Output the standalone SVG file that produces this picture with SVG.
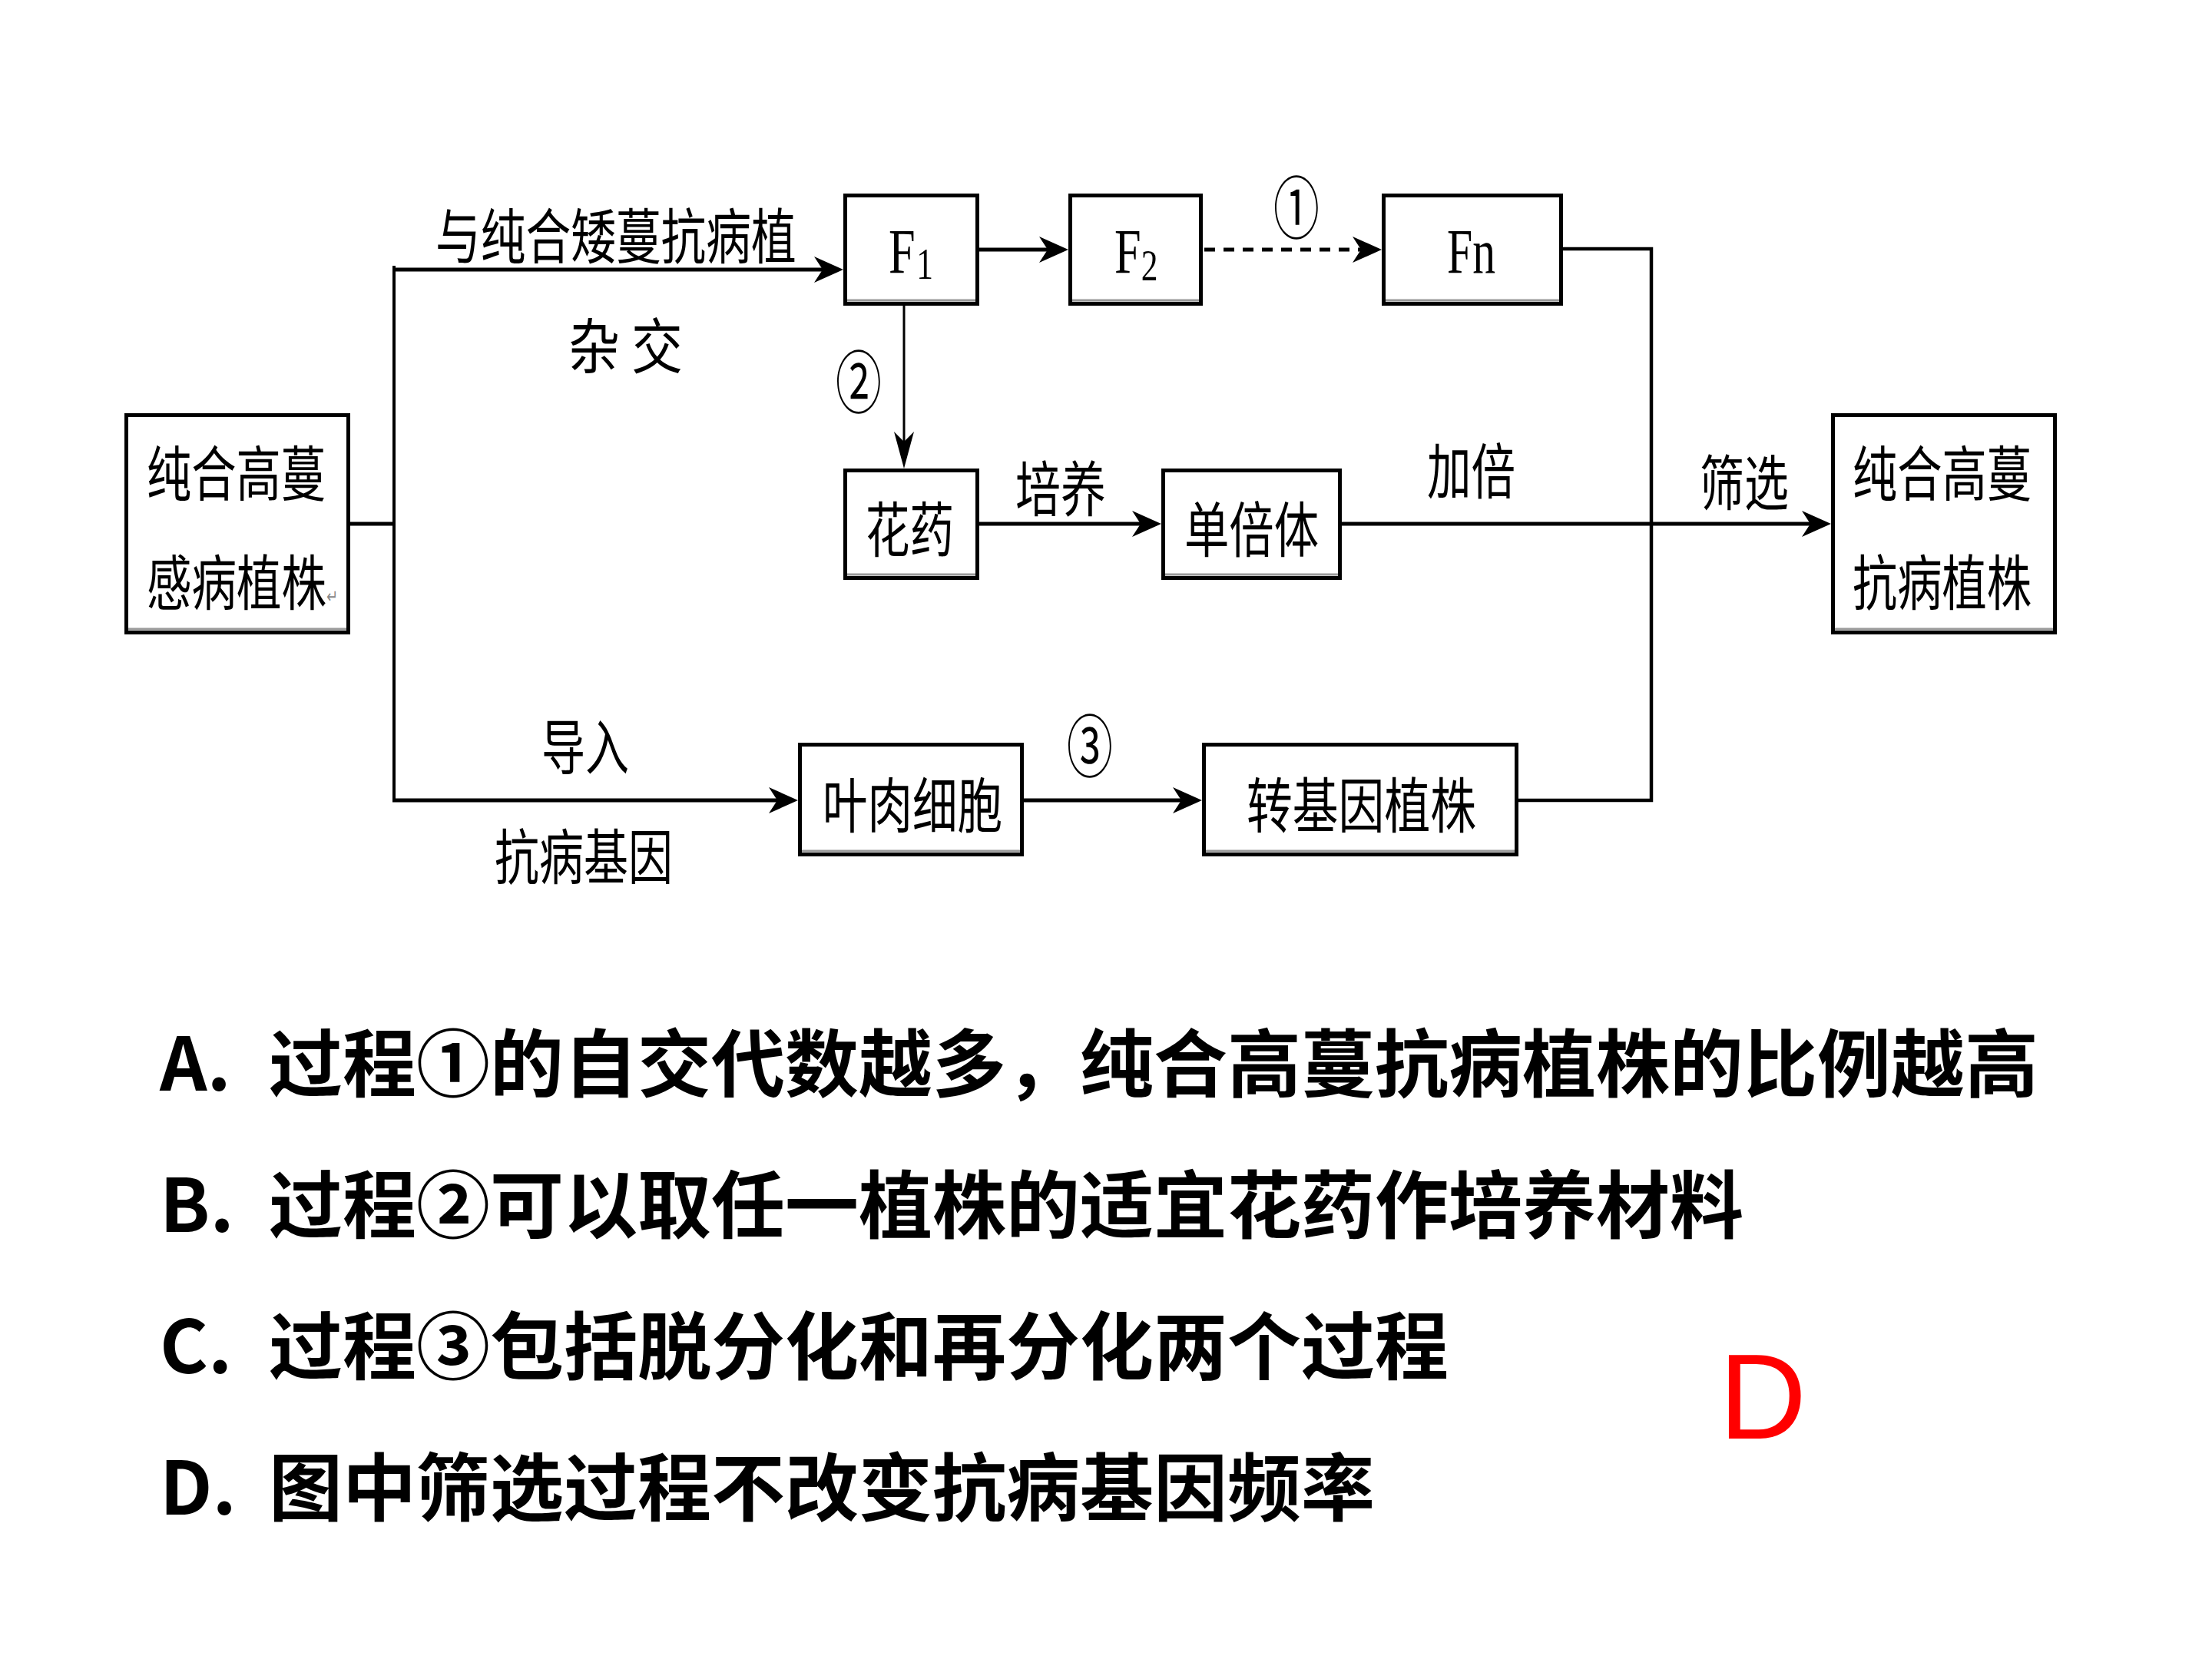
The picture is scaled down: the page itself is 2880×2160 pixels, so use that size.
<svg xmlns="http://www.w3.org/2000/svg" width="2880" height="2160" viewBox="0 0 2880 2160">
<defs>
<style>
.box{fill:#fff;stroke:#000;stroke-width:5}
.shd{fill:none;stroke:#9a9a9a;stroke-width:3}
.t{font-family:"Noto Sans CJK SC","Noto Sans CJK JP",sans-serif;font-size:78px;fill:#000}
.f{font-family:"Liberation Serif","Times New Roman",serif;font-size:83px;fill:#000}
.c{font-family:"Noto Sans CJK SC","Noto Sans CJK JP",sans-serif;font-size:88px;fill:#000;text-anchor:middle}
.ln{fill:none;stroke:#000;stroke-width:5}
.opt{font-family:"Noto Sans CJK SC","Noto Sans CJK JP",sans-serif;font-size:96px;font-weight:bold;fill:#000}
</style>
<marker id="ah" markerUnits="userSpaceOnUse" viewBox="-40 -20 40 40" markerWidth="40" markerHeight="40" refX="-20" refY="0" orient="auto" overflow="visible"><path d="M0,0 L-38,-17 L-27,0 L-38,17 Z" fill="#000"/></marker>
<marker id="ahv" markerUnits="userSpaceOnUse" viewBox="-50 -15 50 30" markerWidth="50" markerHeight="30" refX="-25" refY="0" orient="auto" overflow="visible"><path d="M0,0 L-48,-13 L-35,0 L-48,13 Z" fill="#000"/></marker>
</defs>
<rect x="0" y="0" width="2880" height="2160" fill="#fff"/>

<g id="node-parent">
<rect class="box" x="164.5" y="540.5" width="289" height="283"/>
<line class="shd" x1="167" y1="819" x2="451" y2="819"/>
<text class="t" x="191" y="646" textLength="233" lengthAdjust="spacingAndGlyphs">纯合高蔓</text>
<text class="t" transform="translate(191,788) scale(0.75,1)">感病植株<tspan font-family="DejaVu Sans,sans-serif" font-size="24" fill="#888" dy="-3">↵</tspan></text>
</g>

<g id="node-F1">
<rect class="box" x="1100.5" y="254.5" width="172" height="141"/>
<line class="shd" x1="1103" y1="391" x2="1270" y2="391"/>
<text class="f" transform="translate(1157,355) scale(0.75,1)">F<tspan font-size="58" dx="2" dy="8">1</tspan></text>
</g>

<g id="node-F2">
<rect class="box" x="1393.5" y="254.5" width="170" height="141"/>
<line class="shd" x1="1396" y1="391" x2="1561" y2="391"/>
<text class="f" transform="translate(1451,355) scale(0.75,1)">F<tspan font-size="58" dy="10">2</tspan></text>
</g>

<g id="node-Fn">
<rect class="box" x="1801.5" y="254.5" width="231" height="141"/>
<line class="shd" x1="1804" y1="391" x2="2030" y2="391"/>
<text class="f" x="1884" y="355" textLength="63" lengthAdjust="spacingAndGlyphs">Fn</text>
</g>

<g id="node-anther">
<rect class="box" x="1100.5" y="612.5" width="172" height="140"/>
<line class="shd" x1="1103" y1="748" x2="1270" y2="748"/>
<text class="t" x="1127" y="719" textLength="115" lengthAdjust="spacingAndGlyphs">花药</text>
</g>

<g id="node-haploid">
<rect class="box" x="1514.5" y="612.5" width="230" height="140"/>
<line class="shd" x1="1517" y1="748" x2="1742" y2="748"/>
<text class="t" x="1542" y="719" textLength="175" lengthAdjust="spacingAndGlyphs">单倍体</text>
</g>

<g id="node-result">
<rect class="box" x="2386.5" y="540.5" width="289" height="283"/>
<line class="shd" x1="2389" y1="819" x2="2673" y2="819"/>
<text class="t" x="2412" y="646" textLength="233" lengthAdjust="spacingAndGlyphs">纯合高蔓</text>
<text class="t" x="2412" y="788" textLength="233" lengthAdjust="spacingAndGlyphs">抗病植株</text>
</g>

<g id="node-mesophyll">
<rect class="box" x="1041.5" y="969.5" width="289" height="143"/>
<line class="shd" x1="1044" y1="1108" x2="1328" y2="1108"/>
<text class="t" x="1071" y="1078" textLength="234" lengthAdjust="spacingAndGlyphs">叶肉细胞</text>
</g>

<g id="node-transgenic">
<rect class="box" x="1567.5" y="969.5" width="407" height="143"/>
<line class="shd" x1="1570" y1="1108" x2="1972" y2="1108"/>
<text class="t" x="1623" y="1078" textLength="299" lengthAdjust="spacingAndGlyphs">转基因植株</text>
</g>

<g id="connectors">
<path class="ln" d="M456,682 H515"/>
<path class="ln" style="stroke-width:4" d="M513,346 V1044"/>
<path class="ln" d="M511,351 H1078" marker-end="url(#ah)"/>
<path class="ln" d="M1275,325 H1371" marker-end="url(#ah)"/>
<path class="ln" stroke-dasharray="14 11" d="M1568,325 H1779" marker-end="url(#ah)"/>
<path class="ln" style="stroke-width:3" d="M1177,398 V585" marker-end="url(#ahv)"/>
<path class="ln" d="M1275,682 H1492" marker-end="url(#ah)"/>
<path class="ln" d="M1747,682 H2364" marker-end="url(#ah)"/>
<path class="ln" style="stroke-width:4.5" d="M2035,324 H2150 V1042 H1977"/>
<path class="ln" d="M511,1042 H1019" marker-end="url(#ah)"/>
<path class="ln" d="M1333,1042 H1545" marker-end="url(#ah)"/>
</g>

<g id="edge-labels">
<text class="t" transform="translate(567,337) scale(0.753,1)">与纯合矮蔓抗病植</text>
<text class="t" x="740" y="480" textLength="149" lengthAdjust="spacingAndGlyphs">杂 交</text>
<text class="c" transform="translate(1688,303) scale(0.68,1)">①</text>
<text class="c" transform="translate(1118,530) scale(0.68,1)">②</text>
<text class="c" transform="translate(1419,1004) scale(0.68,1)">③</text>
<text class="t" x="1322" y="666" textLength="118" lengthAdjust="spacingAndGlyphs">培养</text>
<text class="t" x="1858" y="643" textLength="115" lengthAdjust="spacingAndGlyphs">加倍</text>
<text class="t" x="2213" y="658" textLength="116" lengthAdjust="spacingAndGlyphs">筛选</text>
<text class="t" x="705" y="1002" textLength="114" lengthAdjust="spacingAndGlyphs">导入</text>
<text class="t" x="644" y="1145" textLength="232" lengthAdjust="spacingAndGlyphs">抗病基因</text>
</g>

<g id="options">
<text class="opt" y="1420"><tspan x="208">A.</tspan><tspan x="350">过程①的自交代数越多，纯合高蔓抗病植株的比例越高</tspan></text>
<text class="opt" y="1604"><tspan x="208">B.</tspan><tspan x="350">过程②可以取任一植株的适宜花药作培养材料</tspan></text>
<text class="opt" y="1788"><tspan x="208">C.</tspan><tspan x="350">过程③包括脱分化和再分化两个过程</tspan></text>
<text class="opt" y="1972"><tspan x="208">D.</tspan><tspan x="350">图中筛选过程不改变抗病基因频率</tspan></text>
</g>

<text id="answer" x="2238" y="1873" font-family="Liberation Sans,Arial,sans-serif" font-size="158" fill="#ff0000">D</text>
</svg>
